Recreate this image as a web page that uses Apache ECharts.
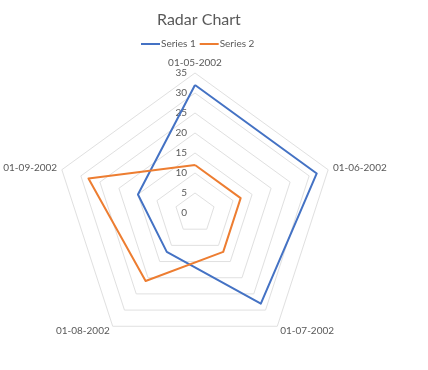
<!DOCTYPE html>
<html>
<head>
<meta charset="utf-8">
<script src="https://cdn.jsdelivr.net/npm/echarts@6/dist/echarts.min.js"></script>
<style>html,body{margin:0;padding:0;background:#fff}#c{width:428px;height:370px}</style>
</head>
<body>
<div id="c"></div>
<script>
var categories = ['01-05-2002', '01-06-2002', '01-07-2002', '01-08-2002', '01-09-2002'];
var series1 = [32, 32, 28, 12, 15];
var series2 = [12, 12, 12, 21, 28];
var axisMax = 35;
var FONT = 'Lato, "Open Sans", sans-serif';

// ECharts lays out radar indicators counter-clockwise; Excel goes clockwise.
var order = [0, 4, 3, 2, 1];
function reorder(arr) { return order.map(function (i) { return arr[i]; }); }

var chart = echarts.init(document.getElementById('c'));
chart.setOption({
  animation: false,
  backgroundColor: '#fff',
  title: {
    text: 'Radar Chart', left: 152, top: 7,
    textStyle: { fontFamily: FONT, fontSize: 16, fontWeight: 'normal', color: '#595959' }
  },
  legend: {
    top: 34, left: 136, icon: 'rect', itemWidth: 19, itemHeight: 2, itemGap: 4,
    textStyle: { fontFamily: FONT, fontSize: 10, color: '#595959', padding: [0, 0, 0, -4] },
    data: ['Series 1', 'Series 2']
  },
  radar: {
    center: [195, 213],
    radius: 140,
    startAngle: 90,
    splitNumber: 7,
    shape: 'polygon',
    nameGap: 5,
    axisName: { fontFamily: FONT, fontSize: 10, color: '#595959' },
    indicator: reorder(categories).map(function (c, i) {
      var o = { name: c, min: 0, max: axisMax };
      if (i === 0) o.axisLabel = { show: true };
      return o;
    }),
    axisLine: { show: false },
    axisTick: { show: false },
    axisLabel: { show: false, fontFamily: FONT, fontSize: 10, color: '#595959', margin: 8 },
    splitLine: { lineStyle: { color: '#e0e0e0', width: 1 } },
    splitArea: { show: false }
  },
  series: [{
    type: 'radar',
    symbol: 'none',
    data: [
      { name: 'Series 1', value: reorder(series1), lineStyle: { color: '#4472C4', width: 2 }, itemStyle: { color: '#4472C4' } },
      { name: 'Series 2', value: reorder(series2), lineStyle: { color: '#ED7D31', width: 2 }, itemStyle: { color: '#ED7D31' } }
    ]
  }]
});
</script>
</body>
</html>
